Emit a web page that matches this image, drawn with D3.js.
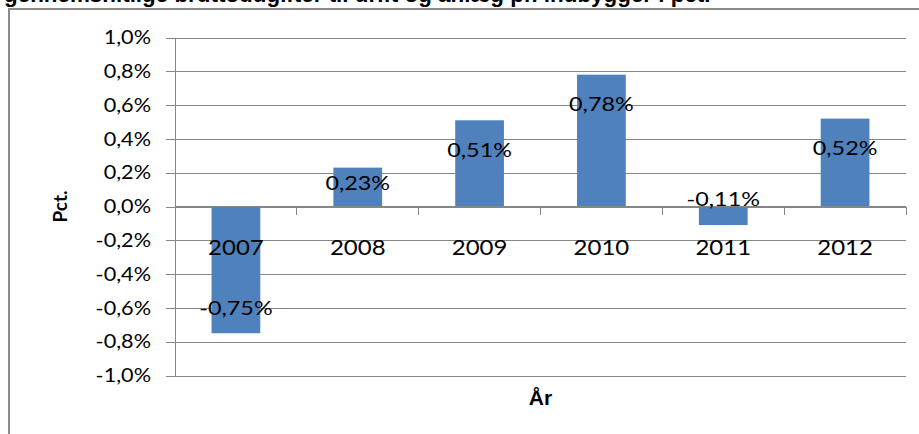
<!DOCTYPE html>
<html>
<head>
<meta charset="utf-8">
<script src="https://cdn.jsdelivr.net/npm/d3@7"></script>
<style>
  html, body { margin: 0; padding: 0; background: #fff; }
  svg { display: block; }
</style>
</head>
<body>
<div id="chart"></div>
<script>
const titleText = "gennemsnitlige bruttoudgifter til drift og anlæg pr. indbygger i pct.";
const categories = ["2007", "2008", "2009", "2010", "2011", "2012"];
const values = [-0.75, 0.23, 0.51, 0.78, -0.11, 0.52];
const yTicks = [-1.0, -0.8, -0.6, -0.4, -0.2, 0.0, 0.2, 0.4, 0.6, 0.8, 1.0];
const yTitle = "Pct.";
const xTitle = "År";

const W = 919, H = 434;
const plot = { left: 175, right: 906, top: 37.5, bottom: 375.5 };
const gridColor = "#868686";
const barColor = "#4F81BD";
const sx = 1.17; // horizontal stretch of the reference text
const font = "Lato, 'Open Sans', sans-serif";

const svg = d3.select("#chart").append("svg").attr("width", W).attr("height", H);

const y = d3.scaleLinear().domain([-1, 1]).range([plot.bottom, plot.top]);
const x = d3.scaleBand().domain(categories).range([plot.left, plot.right]).padding(0);
const y0 = y(0);

function comma(v, d) { return v.toFixed(d).replace(".", ",") + "%"; }
function stretchedText(g, tx, ty, txt, size, anchor, weight) {
  return g.append("text")
    .attr("transform", `translate(${tx},${ty}) scale(${sx},1)`)
    .attr("text-anchor", anchor)
    .attr("font-family", font)
    .attr("font-size", size)
    .attr("font-weight", weight || 400)
    .attr("fill", "#000")
    .text(txt);
}

// title (cropped at top)
svg.append("text")
  .attr("x", 4).attr("y", 2)
  .attr("font-family", "'Liberation Sans', Arial, sans-serif")
  .attr("font-weight", 700)
  .attr("font-size", 22.4)
  .text(titleText);

// chart border
svg.append("path")
  .attr("d", `M9,${H} V9 H${W}`)
  .attr("fill", "none")
  .attr("stroke", "#8a8a8a")
  .attr("stroke-width", 2);

// gridlines
const grid = svg.append("g").attr("transform", `translate(${plot.left},0)`)
  .call(d3.axisLeft(y).tickValues(yTicks).tickSize(-(plot.right - plot.left)).tickSizeOuter(0).tickFormat(""));
grid.select(".domain").remove();
grid.selectAll("line").attr("stroke", gridColor).attr("shape-rendering", "crispEdges");

// y axis with outward ticks
const yAxis = svg.append("g").attr("transform", `translate(${plot.left},0)`)
  .call(d3.axisLeft(y).tickValues(yTicks).tickSize(9).tickSizeOuter(0).tickFormat(""));
yAxis.select(".domain").attr("stroke", gridColor).attr("shape-rendering", "crispEdges");
yAxis.selectAll("line").attr("stroke", gridColor).attr("shape-rendering", "crispEdges");

const yLab = svg.append("g");
yTicks.forEach(t => {
  stretchedText(yLab, plot.left - 24, y(t) + 6.7, comma(t, 1), 18.5, "end");
});

// bars
svg.append("g").selectAll("rect")
  .data(values)
  .join("rect")
  .attr("x", (d, i) => x(categories[i]) + x.bandwidth() * 0.3)
  .attr("width", x.bandwidth() * 0.4)
  .attr("y", d => Math.min(y(d), y0))
  .attr("height", d => Math.abs(y(d) - y0))
  .attr("fill", barColor);

// x axis line and tick marks at category boundaries
svg.append("line")
  .attr("x1", plot.left).attr("x2", plot.right)
  .attr("y1", y0).attr("y2", y0)
  .attr("stroke", gridColor).attr("shape-rendering", "crispEdges");
const bounds = categories.map(c => x(c)).concat([x.range()[1]]);
svg.append("g").selectAll("line")
  .data(bounds.slice(1))
  .join("line")
  .attr("x1", d => d).attr("x2", d => d)
  .attr("y1", y0).attr("y2", y0 + 8)
  .attr("stroke", gridColor).attr("shape-rendering", "crispEdges");

// category labels
const catG = svg.append("g");
categories.forEach(c => {
  stretchedText(catG, x(c) + x.bandwidth() / 2, y0 + 48, c, 20.5, "middle");
});

// value labels
const valG = svg.append("g");
values.forEach((v, i) => {
  const h = Math.abs(y(v) - y0);
  let cy;
  if (h < 22) {
    cy = y0 - 8; // too short: label sits just outside, above the axis
  } else {
    const off = Math.min(v > 0 ? 29 : 25, h * 0.39);
    cy = v > 0 ? y(v) + off : y(v) - off;
  }
  stretchedText(valG, x(categories[i]) + x.bandwidth() / 2, cy + 7.2, comma(v, 2), 20, "middle");
});

// axis titles
svg.append("text")
  .attr("transform", `translate(67,${(plot.top + plot.bottom) / 2}) rotate(-90)`)
  .attr("text-anchor", "middle")
  .attr("font-family", font)
  .attr("font-weight", 700)
  .attr("font-size", 19)
  .text(yTitle);

svg.append("text")
  .attr("x", (plot.left + plot.right) / 2)
  .attr("y", 405)
  .attr("text-anchor", "middle")
  .attr("font-family", "'Liberation Sans', Arial, sans-serif")
  .attr("font-weight", 700)
  .attr("font-size", 21)
  .text(xTitle);
</script>
</body>
</html>
